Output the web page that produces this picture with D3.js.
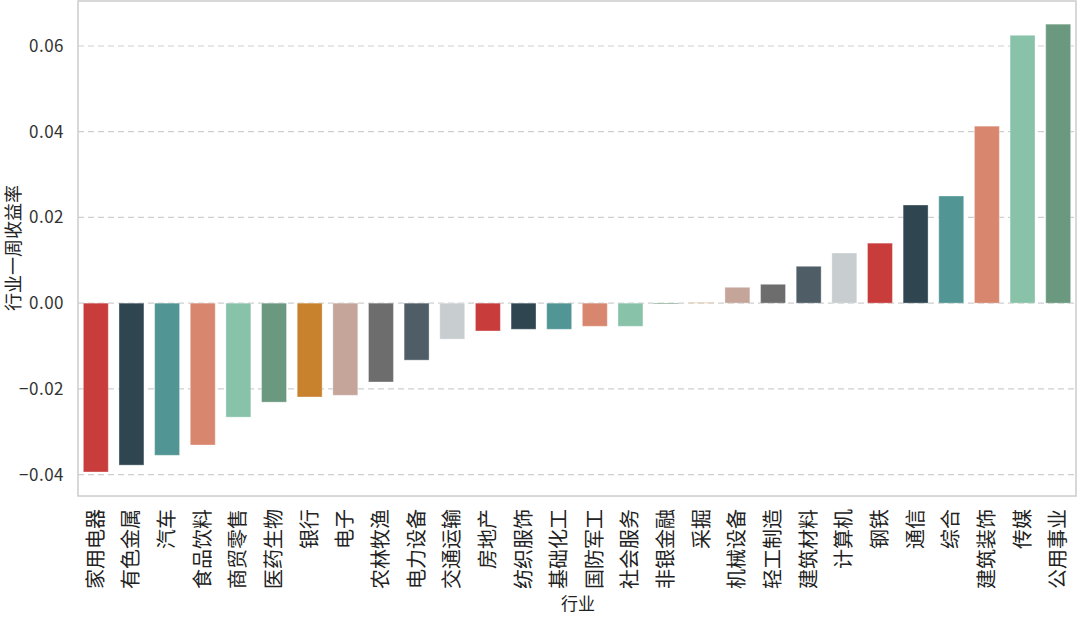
<!DOCTYPE html>
<html lang="zh">
<head>
<meta charset="UTF-8">
<title>行业一周收益率</title>
<script src="https://d3js.org/d3.v7.min.js"></script>
<style>
  body { margin: 0; background: #fff; }
  svg { display: block; font-family: "Noto Sans CJK SC", "DejaVu Sans", sans-serif; }
  .grid line { stroke: #cfcfcf; stroke-width: 1.2; stroke-dasharray: 6,4; }
  .ytick { font-size: 17px; fill: #333; letter-spacing: 0.5px; }
  .xtick { font-size: 20px; fill: #222; }
</style>
</head>
<body>
<svg width="1080" height="618"></svg>
<script>
// industries, sorted by weekly return
const industries = ["家用电器", "有色金属", "汽车", "食品饮料", "商贸零售", "医药生物", "银行", "电子",
  "农林牧渔", "电力设备", "交通运输", "房地产", "纺织服饰", "基础化工", "国防军工", "社会服务",
  "非银金融", "采掘", "机械设备", "轻工制造", "建筑材料", "计算机", "钢铁", "通信", "综合",
  "建筑装饰", "传媒", "公用事业"];
const returns = [-0.0394, -0.0378, -0.0355, -0.0331, -0.0266, -0.0231, -0.0219, -0.0215,
  -0.0184, -0.0133, -0.0084, -0.0065, -0.0061, -0.0061, -0.0054, -0.0054,
  -0.0002, 0.0001, 0.0037, 0.0044, 0.0086, 0.0117, 0.0140, 0.0229, 0.0250,
  0.0413, 0.0625, 0.0651];
const yTicks = [-0.04, -0.02, 0.00, 0.02, 0.04, 0.06];
const palette = ["#c83c3b", "#2f4650", "#519594", "#d8866e", "#88c2a8", "#6a997f",
  "#c8822e", "#c5a49a", "#6d6d6d", "#4f5e66", "#c8cdd0"];

const svg = d3.select("svg");
const plotLeft = 78, plotRight = 1076, plotTop = 1, plotBottom = 496;

const x = d3.scaleBand().domain(industries).range([plotLeft, plotRight]).paddingInner(0.3).paddingOuter(0.15);
const y = d3.scaleLinear().domain([-0.045, 0.0705]).range([plotBottom, plotTop]);

// grid behind bars
svg.append("g").attr("class", "grid")
  .selectAll("line").data(yTicks).join("line")
  .attr("x1", plotLeft).attr("x2", plotRight)
  .attr("y1", d => y(d)).attr("y2", d => y(d));

svg.append("g").selectAll("rect")
  .data(returns).join("rect")
  .attr("x", (d, i) => x(industries[i]))
  .attr("width", x.bandwidth())
  .attr("y", d => y(Math.max(0, d)))
  .attr("height", d => Math.abs(y(d) - y(0)))
  .attr("fill", (d, i) => palette[i % palette.length])
  .attr("stroke", "#fff").attr("stroke-opacity", 0.35).attr("stroke-width", 1);

// frame
svg.append("rect")
  .attr("x", plotLeft).attr("y", plotTop)
  .attr("width", plotRight - plotLeft).attr("height", plotBottom - plotTop)
  .attr("fill", "none").attr("stroke", "#cccccc").attr("stroke-width", 1.5);

// y tick labels
const fmt = d => (d < 0 ? "\u2212" : "") + Math.abs(d).toFixed(2);
svg.append("g").selectAll("text").data(yTicks).join("text")
  .attr("class", "ytick")
  .attr("x", 64).attr("y", d => y(d))
  .attr("dy", "0.35em")
  .attr("text-anchor", "end")
  .text(fmt);

// x tick labels, rotated
svg.append("g").selectAll("text").data(industries).join("text")
  .attr("class", "xtick")
  .attr("transform", d => `translate(${x(d) + x.bandwidth() / 2},509) rotate(-90)`)
  .attr("text-anchor", "end")
  .attr("dy", "0.35em")
  .text(d => d);

// axis titles
svg.append("text")
  .attr("transform", "translate(14,248) rotate(-90)")
  .attr("text-anchor", "middle").attr("dy", "0.35em")
  .style("font-size", "18px").style("fill", "#222")
  .text("行业一周收益率");

svg.append("text")
  .attr("x", 578).attr("y", 610)
  .attr("text-anchor", "middle")
  .style("font-size", "17px").style("fill", "#222")
  .text("行业");
</script>
</body>
</html>
